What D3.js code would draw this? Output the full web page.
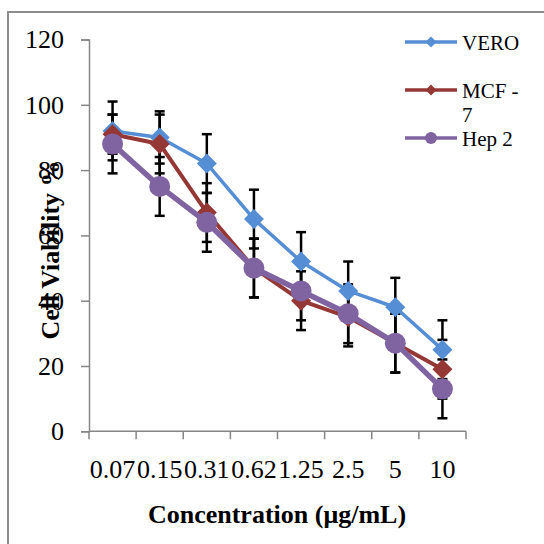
<!DOCTYPE html>
<html>
<head>
<meta charset="utf-8">
<script src="https://cdn.jsdelivr.net/npm/d3@7"></script>
<style>
  body { margin: 0; background: #fff; }
  text { font-family: "Liberation Serif", "Times New Roman", serif; }
</style>
</head>
<body>
<svg id="chart"></svg>
<script>
'use strict';

var concentrations = ["0.07", "0.15", "0.31", "0.62", "1.25", "2.5", "5", "10"];
var vero = [92, 90, 82, 65, 52, 43, 38, 25];
var veroErr = [9, 8, 9, 9, 9, 9, 9, 9];
var mcf7 = [91, 88, 67, 50, 40, 35, 27, 19];
var mcf7Err = [6, 9, 9, 9, 9, 9, 9, 9];
var hep2 = [88, 75, 64, 50, 43, 36, 27, 13];
var hep2Err = [9, 9, 9, 9, 9, 9, 9, 9];
var yTicks = [0, 20, 40, 60, 80, 100, 120];

var series = [
    { name: "VERO", values: vero, err: veroErr, color: "#558ed5", shape: "diamond", lw: 3.5, size: 10 },
    { name: "MCF - 7", values: mcf7, err: mcf7Err, color: "#953735", shape: "diamond", lw: 4, size: 10 },
    { name: "Hep 2", values: hep2, err: hep2Err, color: "#8064a2", shape: "circle", lw: 5.5, size: 10.5 }
];

function draw() {
    var width = 544,
        height = 544;

    var svg = d3.select("#chart")
                .attr("width", width)
                .attr("height", height);

    // chart frame (cut off at right/bottom like the source)
    svg.append("rect")
        .attr("x", 8).attr("y", 12)
        .attr("width", 600).attr("height", 600)
        .attr("fill", "#fff")
        .attr("stroke", "#8c8c8c")
        .attr("stroke-width", 2);

    var x = d3.scaleBand()
                .domain(concentrations)
                .range([89, 466]);

    var y = d3.scaleLinear()
                .domain([0, 120])
                .range([431.3, 39.5]);

    var cx = function(i) { return x(concentrations[i]) + x.bandwidth() / 2; };

    // y axis
    var yAxis = svg.append("g")
                    .attr("transform", "translate(89,0)")
                    .call(d3.axisLeft(y).tickValues(yTicks).tickSize(8).tickPadding(17));
    yAxis.select(".domain").attr("stroke", "#868686").attr("stroke-width", 1.5);
    yAxis.selectAll(".tick line").attr("stroke", "#868686").attr("stroke-width", 1.5);
    yAxis.selectAll(".tick text")
        .attr("font-family", "Liberation Serif")
        .attr("font-size", 26)
        .attr("fill", "#000");

    // x axis with ticks at category boundaries
    var xAxis = svg.append("g")
                    .attr("transform", "translate(0,431.3)");
    xAxis.append("line")
        .attr("x1", 89).attr("x2", 466)
        .attr("stroke", "#868686").attr("stroke-width", 1.5);
    xAxis.selectAll(".xtick")
        .data(concentrations.concat(["end"]))
        .enter().append("line")
            .attr("x1", function(d, i) { return 89 + i * x.step(); })
            .attr("x2", function(d, i) { return 89 + i * x.step(); })
            .attr("y1", 0).attr("y2", 8)
            .attr("stroke", "#868686").attr("stroke-width", 1.5);
    xAxis.selectAll(".xlab")
        .data(concentrations)
        .enter().append("text")
            .attr("x", function(d, i) { return cx(i); })
            .attr("y", 47)
            .attr("text-anchor", "middle")
            .attr("font-size", 26)
            .text(function(d) { return d; });

    // axis titles
    svg.append("text")
        .attr("x", 277).attr("y", 523)
        .attr("text-anchor", "middle")
        .attr("font-size", 26)
        .attr("font-weight", "bold")
        .text("Concentration (μg/mL)");

    svg.append("text")
        .attr("transform", "translate(59,250) rotate(-90)")
        .attr("text-anchor", "middle")
        .attr("font-size", 26)
        .attr("font-weight", "bold")
        .text("Cell Viability %");

    // error bars (beneath the markers)
    series.forEach(function(s) {
        var g = svg.append("g").attr("stroke", "#000").attr("stroke-width", 2.5);
        s.values.forEach(function(v, i) {
            var px = cx(i), top = y(v + s.err[i]), bot = y(v - s.err[i]);
            g.append("line").attr("x1", px).attr("x2", px).attr("y1", top).attr("y2", bot);
            g.append("line").attr("x1", px - 5).attr("x2", px + 5).attr("y1", top).attr("y2", top);
            g.append("line").attr("x1", px - 5).attr("x2", px + 5).attr("y1", bot).attr("y2", bot);
        });
    });

    var line = d3.line()
                .x(function(d, i) { return cx(i); })
                .y(function(d) { return y(d); });

    var diamond = function(r) { return "M0," + (-r) + "L" + r + ",0L0," + r + "L" + (-r) + ",0Z"; };

    series.forEach(function(s) {
        svg.append("path")
            .datum(s.values)
            .attr("d", line)
            .attr("fill", "none")
            .attr("stroke", s.color)
            .attr("stroke-width", s.lw)
            .attr("stroke-linejoin", "round");

        var m = svg.selectAll(null)
                    .data(s.values)
                .enter();
        if (s.shape === "circle") {
            m.append("circle")
                .attr("cx", function(d, i) { return cx(i); })
                .attr("cy", function(d) { return y(d); })
                .attr("r", s.size)
                .attr("fill", s.color);
        } else {
            m.append("path")
                .attr("d", diamond(s.size))
                .attr("transform", function(d, i) { return "translate(" + cx(i) + "," + y(d) + ")"; })
                .attr("fill", s.color);
        }
    });

    // legend
    var legendY = [42, 90, 138];
    series.forEach(function(s, k) {
        var g = svg.append("g").attr("transform", "translate(0," + legendY[k] + ")");
        g.append("line")
            .attr("x1", 405).attr("x2", 457)
            .attr("stroke", s.color).attr("stroke-width", 3.5);
        if (s.shape === "circle") {
            g.append("circle").attr("cx", 431).attr("r", 6).attr("fill", s.color);
        } else {
            g.append("path").attr("d", diamond(5.5)).attr("transform", "translate(431,0)").attr("fill", s.color);
        }
        var t = g.append("text")
                    .attr("x", 462).attr("y", 8)
                    .attr("font-size", 21);
        if (s.name === "MCF - 7") {
            t.append("tspan").attr("x", 462).text("MCF -");
            t.append("tspan").attr("x", 462).attr("dy", 23.5).text("7");
        } else {
            t.text(s.name);
        }
    });
}

draw();
</script>
</body>
</html>
